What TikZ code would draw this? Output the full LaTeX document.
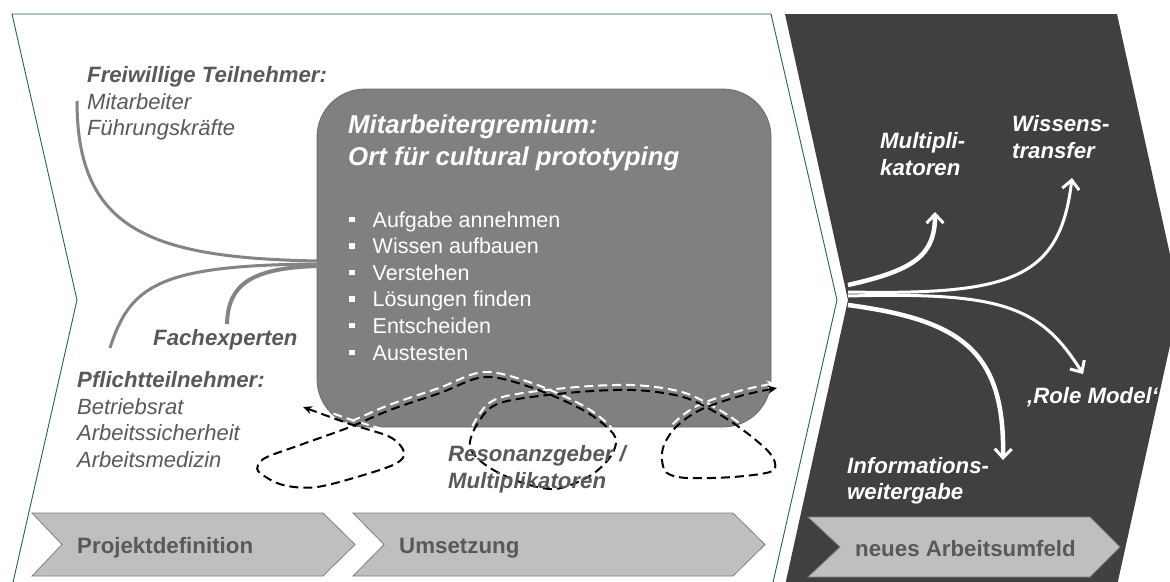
\documentclass[tikz,border=0pt]{standalone}
\usepackage{fontspec}
\setmainfont{Liberation Sans}
\usetikzlibrary{arrows.meta}
\definecolor{teal1}{RGB}{35,95,110}
\definecolor{darkbg}{RGB}{64,64,64}
\definecolor{boxgray}{RGB}{128,128,128}
\definecolor{boxline}{RGB}{105,105,105}
\definecolor{txtgray}{RGB}{89,89,89}
\definecolor{chev}{RGB}{191,191,191}
\definecolor{chevline}{RGB}{127,127,127}
\definecolor{linegray}{RGB}{132,132,132}
\tikzset{
 gline/.style={draw=linegray, line width=3pt},
 warrow/.style={draw=white, line width=3pt, -{Straight Barb[length=9pt,width=17pt,line width=3pt]}},
 dpath/.style={dash pattern=on 9pt off 5pt, line width=2pt},
 lbl/.style={font=\fontsize{22}{26}\selectfont, text=txtgray, anchor=base west, inner sep=0pt},
 lblb/.style={lbl, font=\fontsize{22.2}{26}\selectfont\bfseries\itshape},
 lbli/.style={lbl, font=\fontsize{22}{26}\selectfont\itshape},
 chevlbl/.style={lbl, font=\fontsize{22.3}{26}\selectfont\bfseries},
 wl/.style={lblb, text=white},
 btitle/.style={lbl, text=white, font=\fontsize{25.8}{30}\selectfont\bfseries\itshape},
 bitem/.style={lbl, text=white, font=\fontsize{21.5}{26}\selectfont},
 chevron/.style={fill=chev, draw=chevline, line width=0.8pt},
}
\newcommand{\blt}{\rule[5pt]{5.5pt}{5.5pt}\hspace{18pt}}
\begin{document}
\begin{tikzpicture}[x=1pt,y=-1pt]
\useasboundingbox (0,0) rectangle (1170,581);
\clip (0,0) rectangle (1170,581);
\fill[white] (0,0) rectangle (1170,581);

% dark region
\fill[darkbg] (785,14) -- (1117,14) -- (1180,300) -- (1116,590) -- (784,590) -- (848,300) -- cycle;
% white chevron outline
\draw[teal1, line width=0.9pt] (9,600) -- (77,300) -- (12,14) -- (771,14) -- (837,300) -- (769,600);

% bottom chevrons
\draw[chevron] (32,513) -- (323,513) -- (355,544.5) -- (323,576) -- (32,576) -- (62,544.5) -- cycle;
\draw[chevron] (353,513) -- (733,513) -- (765,544.5) -- (733,576) -- (353,576) -- (384,544.5) -- cycle;
\draw[chevron] (808,517) -- (1090,517) -- (1120,547) -- (1090,577) -- (808,577) -- (840,547) -- cycle;
\node[chevlbl] (c1) at (77,553) {Projektdefinition};
\node[chevlbl] (c2) at (399,553) {Umsetzung};
\node[chevlbl] (c3) at (855,556) {neues Arbeitsumfeld};

% main box
\node[fill=boxgray, draw=boxline, line width=0.8pt, rounded corners=48pt, minimum width=454pt, minimum height=338pt, inner sep=0pt] (gremium) at (544,258) {};
\node[btitle] (g1) at (348,133) {Mitarbeitergremium:};
\node[btitle] (g2) at (348,165) {Ort für cultural prototyping};
\node[bitem] (b1) at (349,227) {\blt Aufgabe annehmen};
\node[bitem] (b2) at (349,253.6) {\blt Wissen aufbauen};
\node[bitem] (b3) at (349,280.2) {\blt Verstehen};
\node[bitem] (b4) at (349,306.8) {\blt Lösungen finden};
\node[bitem] (b5) at (349,333.4) {\blt Entscheiden};
\node[bitem] (b6) at (349,360) {\blt Austesten};

% left labels
\node[lblb] (f1) at (87,82) {Freiwillige Teilnehmer:};
\node[lbli] (f2) at (87,109) {Mitarbeiter};
\node[lbli] (f3) at (87,135) {Führungskräfte};
\node[lblb] (fx) at (153,345) {Fachexperten};
\node[lblb] (p1) at (77,387) {Pflichtteilnehmer:};
\node[lbli] (p2) at (77,414) {Betriebsrat};
\node[lbli] (p3) at (77,440.5) {Arbeitssicherheit};
\node[lbli] (p4) at (77,467) {Arbeitsmedizin};

% gray participant curves
\coordinate (s1) at (77,101);
\coordinate (s2) at (110,348);
\coordinate (s3) at (227,324);
\coordinate (j1) at (318,261);
\coordinate (j2) at (318,264);
\coordinate (j3) at (318,266);
\draw[gline] (s1) .. controls (77,230) and (150,258) .. (j1);
\draw[gline] (s2) .. controls (130,285) and (160,265) .. (j2);
\draw[gline, line width=4pt] (s3) .. controls (228,285) and (250,268) .. (j3);

% dashed loops (white shadow, then black)
\draw[dpath, white, shift={(-1,-5)}, {Stealth[length=9pt,width=8pt]}-{Stealth[length=9pt,width=8pt]}] plot[smooth, tension=0.55] coordinates {
(303,407) (350,424) (390,437) (404,452) (397,463) (367,474) (317,487) (283,485) (260,473) (258,465) (267,457) (300,445) (350,427) (390,410) (440,393) (485,377) (533,388) (583,410) (610,430) (616,443) (608,460) (588,477) (555,489) (520,482) (487,466) (470,447) (478,423) (500,403) (567,393) (633,390) (683,397) (717,413) (743,430) (767,450) (775,463) (770,472) (733,477) (687,478) (667,473) (662,460) (664,445) (676,427) (700,410) (740,396) (777,388)};
\draw[dpath, black, {Stealth[length=9pt,width=8pt]}-{Stealth[length=9pt,width=8pt]}] plot[smooth, tension=0.55] coordinates {
(303,407) (350,424) (390,437) (404,452) (397,463) (367,474) (317,487) (283,485) (260,473) (258,465) (267,457) (300,445) (350,427) (390,410) (440,393) (485,377) (533,388) (583,410) (610,430) (616,443) (608,460) (588,477) (555,489) (520,482) (487,466) (470,447) (478,423) (500,403) (567,393) (633,390) (683,397) (717,413) (743,430) (767,450) (775,463) (770,472) (733,477) (687,478) (667,473) (662,460) (664,445) (676,427) (700,410) (740,396) (777,388)};

\node[lblb] (r1) at (448,461) {Resonanzgeber /};
\node[lblb] (r2) at (448,488) {Multiplikatoren};

% white arrows in dark region
\coordinate (h1) at (848,285);
\coordinate (h2) at (848,292);
\coordinate (h3) at (848,296);
\coordinate (h4) at (848,305);
\coordinate (e1) at (935,212);
\coordinate (e2) at (1072,178);
\coordinate (e3) at (1083,374);
\coordinate (e4) at (1003,460);
\draw[warrow, line width=4.5pt] (h1) .. controls (915,270) and (935,255) .. (e1);
\draw[warrow] (h2) .. controls (1010,295) and (1060,280) .. (e2);
\draw[warrow] (h3) .. controls (1000,292) and (1040,305) .. (e3);
\draw[warrow, line width=4.5pt] (h4) .. controls (960,320) and (1005,350) .. (e4);

\node[wl] (m1) at (880,148) {Multipli-};
\node[wl] (m2) at (880,175) {katoren};
\node[wl] (w1) at (1012,131) {Wissens-};
\node[wl] (w2) at (1012,158) {transfer};
\node[wl] (rm) at (1027,403) {‚Role Model‘};
\node[wl] (i1) at (847,473) {Informations-};
\node[wl] (i2) at (847,499) {weitergabe};
\end{tikzpicture}
\end{document}
